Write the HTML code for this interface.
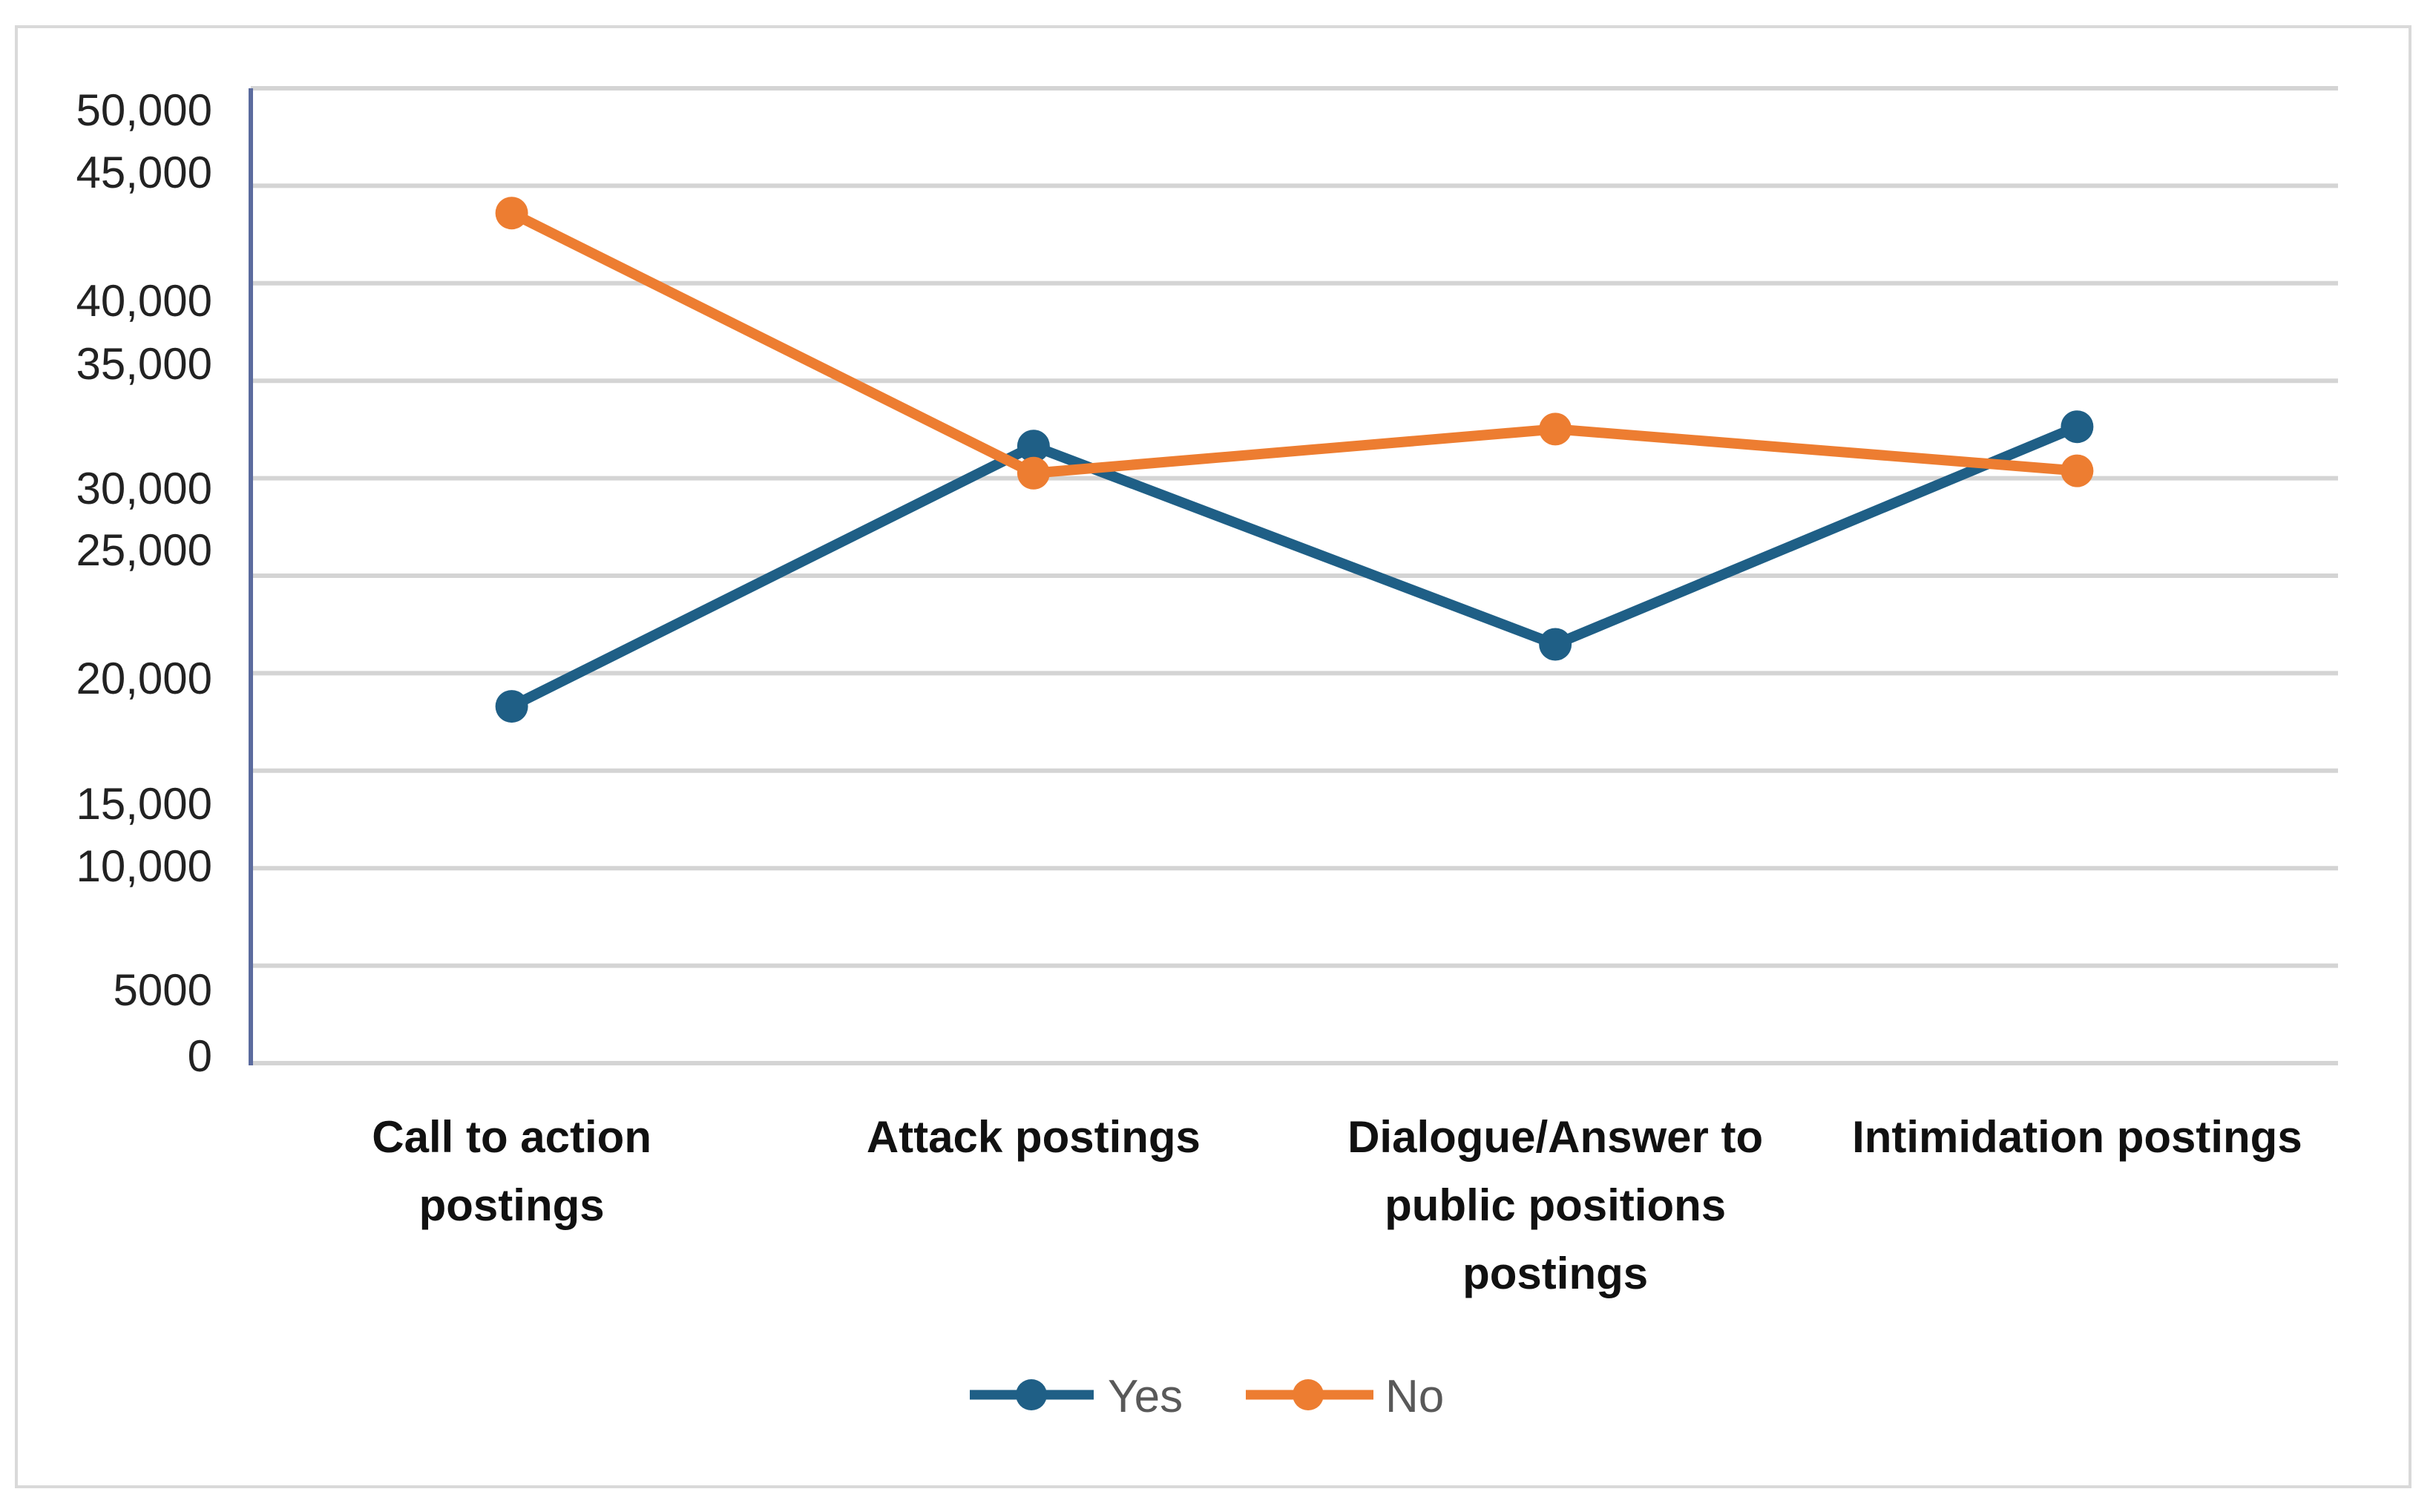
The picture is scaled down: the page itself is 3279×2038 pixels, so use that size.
<!DOCTYPE html>
<html><head><meta charset="utf-8"><style>
html,body{margin:0;padding:0;background:#fff;}
svg{display:block;}
</style></head><body>
<svg id="chart" width="3279" height="2038" viewBox="0 0 3279 2038" xmlns="http://www.w3.org/2000/svg" font-family="Liberation Sans, sans-serif">
<rect x="22" y="36" width="3226" height="1968" fill="#fff" stroke="#d9d9d9" stroke-width="4"/>
<g id="grid"></g>
<g id="ylabels"></g>
<line x1="338" y1="119" x2="338" y2="1436" stroke="#5b6b9e" stroke-width="6"/>
<g id="xlabels"></g>
<g id="series"></g>
<g>
<g>
<line x1="1307" y1="1880" x2="1474" y2="1880" stroke="#1f5f86" stroke-width="13"/>
<circle cx="1390" cy="1880" r="21" fill="#1f5f86"/>
<text x="1493" y="1903" font-size="62" fill="#595959">Yes</text>
</g>
<g>
<line x1="1679" y1="1880" x2="1851" y2="1880" stroke="#ed7d31" stroke-width="13"/>
<circle cx="1763" cy="1880" r="21" fill="#ed7d31"/>
<text x="1867" y="1903" font-size="62" fill="#595959">No</text>
</g>
</g>
</svg>
<script>
const categories = [["Call to action","postings"],["Attack postings"],["Dialogue/Answer to","public positions","postings"],["Intimidation postings"]];
const yesValues = [18300, 31650, 21480, 32640];
const noValues = [43600, 30260, 32520, 30380];
const gridValues = [0,5000,10000,15000,20000,25000,30000,35000,40000,45000,50000];
const tickLabels = ["0","5000","10,000","15,000","20,000","25,000","30,000","35,000","40,000","45,000","50,000"];
const tickLabelY = [1423,1334,1167,1083,914,741,658,490,405,232,148];

const NS="http://www.w3.org/2000/svg";
const plotL=338, plotR=3151, plotT=119, plotB=1433, yMax=50000;
function y(v){return plotB-(v/yMax)*(plotB-plotT);}
function x(i){const w=(plotR-plotL)/categories.length;return plotL+(i+0.5)*w;}
function mk(tag,attrs,parent){const e=document.createElementNS(NS,tag);for(const k in attrs)e.setAttribute(k,attrs[k]);parent.appendChild(e);return e;}

const grid=document.getElementById('grid');
gridValues.forEach(v=>{
  const l=mk('line',{x1:plotL,x2:plotR,y1:y(v),y2:y(v),stroke:'#d4d4d4','stroke-width':6},grid);
  
  
});
const yl=document.getElementById('ylabels');
tickLabels.forEach((t,i)=>{
  const e=mk('text',{x:286,y:tickLabelY[i]+21,'text-anchor':'end','font-size':60,fill:'#222'},yl);
  e.textContent=t;
  
  
});
const xl=document.getElementById('xlabels');
categories.forEach((lines,i)=>{
  lines.forEach((ln,j)=>{
    const e=mk('text',{x:x(i),y:1553+j*92,'text-anchor':'middle','font-size':60,'font-weight':'bold',fill:'#111'},xl);
    e.textContent=ln;
    
    
  });
});
const sg=document.getElementById('series');
function drawSeries(vals,color,name){
  const pts=vals.map((v,i)=>x(i)+','+y(v)).join(' ');
  const pl=mk('polyline',{points:pts,fill:'none',stroke:color,'stroke-width':14,'stroke-linejoin':'round'},sg);
  
  
  vals.forEach((v,i)=>{
    const c=mk('circle',{cx:x(i),cy:y(v),r:22,fill:color},sg);
    
    
  });
}
drawSeries(yesValues,'#1f5f86','yes');
drawSeries(noValues,'#ed7d31','no');
</script>
</body></html>
